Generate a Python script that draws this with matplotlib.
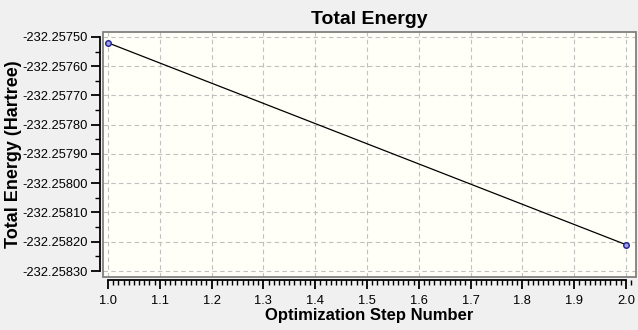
import numpy as np
import matplotlib.pyplot as plt
from matplotlib.patches import Rectangle
from matplotlib.ticker import MultipleLocator, FormatStrFormatter

# optimization steps and energies (Hartree)
steps = [1, 2]
energy = [-232.25752, -232.25821]

plt.rcParams['font.family'] = ['Liberation Sans', 'DejaVu Sans']

fig = plt.figure(figsize=(6.38, 3.30), dpi=100, facecolor='#f0f0f0')
ax = fig.add_axes([103/638, 53/330, 533/638, 245/330], facecolor='#fffff8')

ax.plot(steps, energy, color='black', lw=0.9, marker='o', ms=4,
        mfc='#a0a0e0', mec='#202090', mew=1, zorder=3)

ax.set_xlim(0.99035, 2.0193)
ax.set_ylim(-232.2583205, -232.257483)

ax.xaxis.set_major_locator(MultipleLocator(0.1))
ax.xaxis.set_minor_locator(MultipleLocator(0.01))
ax.yaxis.set_major_locator(MultipleLocator(0.0001))
ax.yaxis.set_minor_locator(MultipleLocator(0.00005))
ax.xaxis.set_major_formatter(FormatStrFormatter('%.1f'))
ax.yaxis.set_major_formatter(FormatStrFormatter('%.5f'))

ax.grid(True, which='major', color='#c0c0c0', ls=(0, (4, 3)), lw=0.8)

for s in ['top', 'right']:
    ax.spines[s].set_visible(False)
ax.spines['left'].set_position(('outward', 2.2))
ax.spines['bottom'].set_position(('outward', 2.2))
ax.spines['left'].set_bounds(-232.2583, -232.2575)
ax.spines['bottom'].set_bounds(1.0, 2.0)
ax.spines['left'].set_linewidth(1.3)
ax.spines['bottom'].set_linewidth(1.3)

ax.tick_params(which='major', length=6.5, width=1.3, labelsize=9.3, pad=2.5)
ax.tick_params(which='minor', length=3.5, width=1.0)
ax.tick_params(axis='x', pad=4)

ax.add_patch(Rectangle((0, 0), 1, 1, transform=ax.transAxes, fill=False,
                       ec='#808080', lw=1.3, clip_on=False, zorder=4))

ax.set_title('Total Energy', fontsize=14, fontweight='bold', pad=6)
ax.set_xlabel('Optimization Step Number', fontsize=12, fontweight='bold', labelpad=1)
ax.set_ylabel('Total Energy (Hartree)', fontsize=13, fontweight='bold')
ax.yaxis.set_label_coords(-0.152, 0.5)

fig.savefig('out.png', dpi=100, facecolor=fig.get_facecolor())
